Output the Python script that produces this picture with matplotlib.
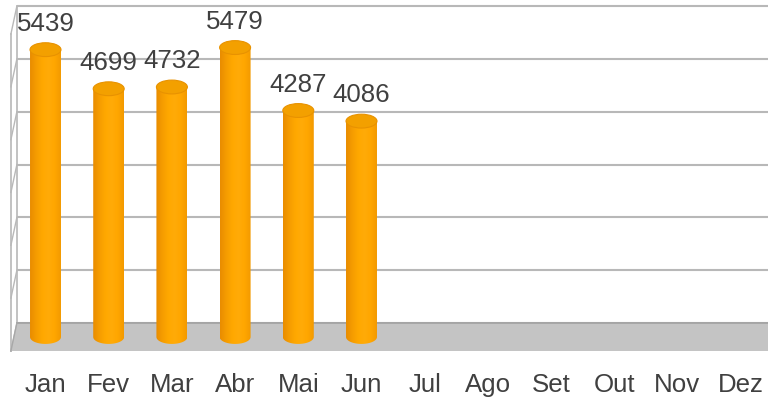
import matplotlib
matplotlib.use("Agg")
import matplotlib.pyplot as plt
import numpy as np
from matplotlib.patches import Ellipse, Polygon, PathPatch
from matplotlib.path import Path
from matplotlib.colors import LinearSegmentedColormap

months = ["Jan", "Fev", "Mar", "Abr", "Mai", "Jun", "Jul", "Ago", "Set", "Out", "Nov", "Dez"]
values = [5439, 4699, 4732, 5479, 4287, 4086]
grid_values = [0, 1000, 2000, 3000, 4000, 5000, 6000]

plt.rcParams['font.family'] = ['Liberation Sans', 'DejaVu Sans']

fig = plt.figure(figsize=(7.68, 4.03), dpi=100)
ax = fig.add_axes([0, 0, 1, 1])
ax.set_xlim(-0.72, 11.432)
ax.set_ylim(-1249.3, 6379)
ax.axis("off")

# depth offsets (half depth) in data units
ddx = 0.0475
ddy = 265
xl = -0.5
xr = 12.5
text_color = "#404040"
grid_color = "#b8b8b8"

# back wall gridlines
for g in grid_values:
    ax.plot([xl + ddx, xr], [g + ddy, g + ddy], color=grid_color, lw=1.5, zorder=1,
            solid_capstyle="butt")
    # left wall slanted lines
    ax.plot([xl + ddx, xl - ddx], [g + ddy, g - ddy], color=grid_color, lw=1.0, zorder=1)
# left wall vertical edges
ax.plot([xl + ddx, xl + ddx], [ddy, grid_values[-1] + ddy], color=grid_color, lw=1.2, zorder=1)
ax.plot([xl - ddx, xl - ddx], [-ddy, grid_values[-1] - ddy], color=grid_color, lw=1.2, zorder=1)

# floor
floor = Polygon([(xl + ddx, ddy), (xr, ddy), (xr, -ddy), (xl - ddx, -ddy)],
                closed=True, facecolor="#c4c4c4", edgecolor="none", zorder=2)
ax.add_patch(floor)
ax.plot([xl + ddx, xr], [ddy, ddy], color="#a2a2a2", lw=1.2, zorder=2)
ax.plot([xl + ddx, xl - ddx], [ddy, -ddy], color="#a8a8a8", lw=1.0, zorder=2)

# cylinders
w = 0.49
eh = 262
cmap = LinearSegmentedColormap.from_list(
    "cyl", ["#e88c00", "#f59c00", "#ffa800", "#ffab08", "#ffa600", "#f39a00"])
grad = np.linspace(0, 1, 256).reshape(1, -1)
for i, v in enumerate(values):
    x0, x1 = i - w / 2, i + w / 2
    t = np.linspace(np.pi, 2 * np.pi, 40)
    bottom = np.column_stack([i + w / 2 * np.cos(t), eh / 2 * np.sin(t)])
    verts = np.vstack([bottom, [[x1, v], [x0, v], bottom[0]]])
    codes = [Path.MOVETO] + [Path.LINETO] * (len(verts) - 2) + [Path.CLOSEPOLY]
    clip = PathPatch(Path(verts, codes), facecolor="none", edgecolor="none",
                     transform=ax.transData)
    ax.add_patch(clip)
    im = ax.imshow(grad, cmap=cmap, extent=(x0, x1, -eh / 2, v), aspect="auto",
                   zorder=3, interpolation="bilinear")
    im.set_clip_path(clip)
    top = Ellipse((i, v), width=w, height=eh, facecolor="#f3a000",
                  edgecolor="#e89200", lw=0.8, zorder=4)
    ax.add_patch(top)
    ax.text(i, v + 360, f"{v}", ha="center", va="baseline", fontsize=18.6,
            color=text_color, zorder=5)

# month labels
for i, m in enumerate(months):
    ax.text(i, -1041, m, ha="center", va="baseline", fontsize=18.6,
            color=text_color, zorder=5)

ax.set_xlim(-0.72, 11.432)
ax.set_ylim(-1249.3, 6379)
fig.savefig("out.png", dpi=100)
